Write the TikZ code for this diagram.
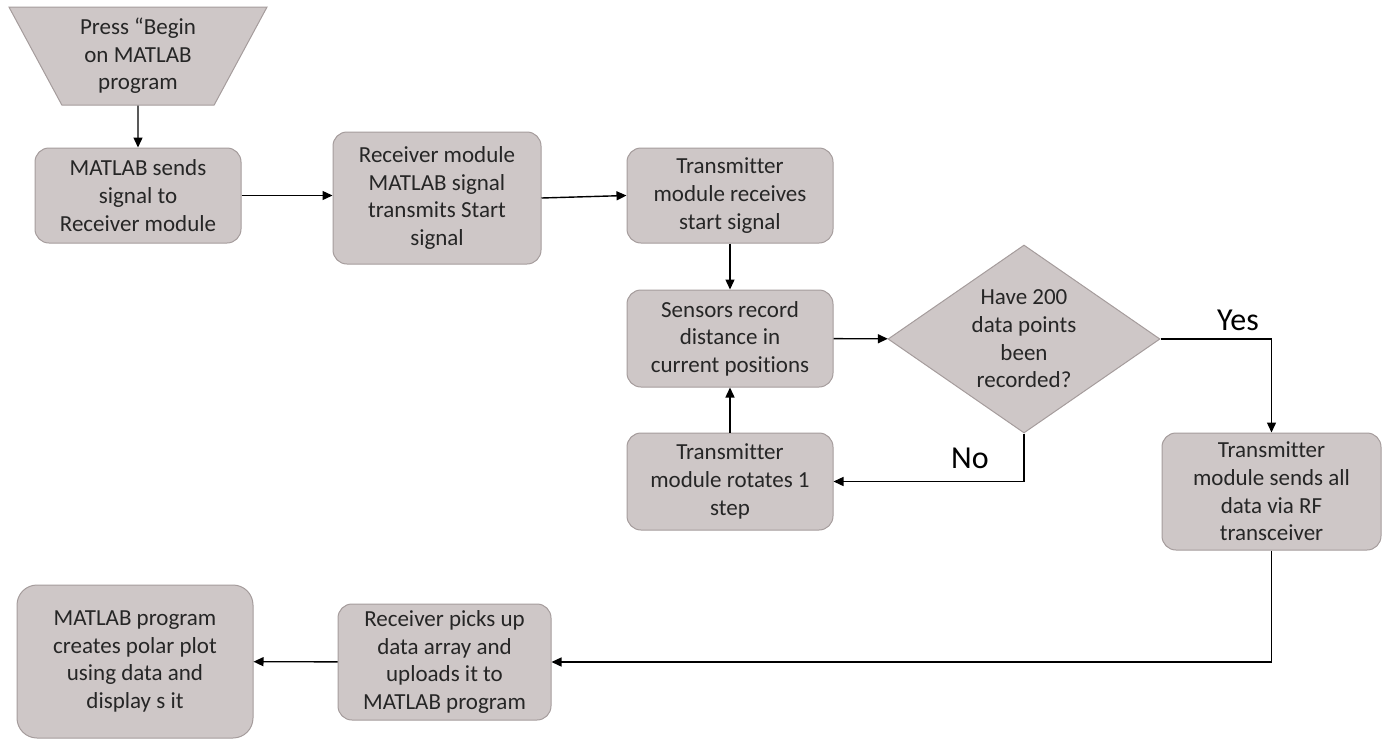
\documentclass[tikz,border=0pt]{standalone}
\usepackage{fontspec}
\setmainfont{Carlito}[Ligatures=NoCommon]
\usetikzlibrary{arrows.meta,shapes.geometric}
\definecolor{boxfill}{RGB}{206,199,199}
\definecolor{boxline}{RGB}{165,156,156}
\definecolor{textgray}{RGB}{38,38,38}

\begin{document}
\begin{tikzpicture}[
    x=0.5pt, y=-0.5pt,
    every node/.style={font=\fontsize{11.5}{13.8}\selectfont, text=textgray, align=center},
    box/.style={draw=boxline, fill=boxfill, rounded corners=7pt, line width=0.5pt, inner sep=2pt},
    choice/.style={diamond, draw=boxline, fill=boxfill, line width=0.5pt, inner sep=0pt, aspect=1.45},
    flow/.style={-{Triangle[length=5pt,width=4.5pt]}, line width=0.7pt},
    answer/.style={font=\fontsize{16}{19}\selectfont, text=black},
]
\useasboundingbox (0,0) rectangle (1387,740);

% Start
\node[trapezium, trapezium angle=62, shape border rotate=180, trapezium stretches=true,
      draw=boxline, fill=boxfill, line width=0.5pt, inner sep=0pt,
      minimum width=130pt, minimum height=49pt] (start) at (138,56) {Press “Begin\\on MATLAB\\program};

% Top row
\node[box, minimum width=103pt, minimum height=47.5pt] (send) at (138,195.5) {MATLAB sends\\signal to\\Receiver module};
\node[box, minimum width=104pt, minimum height=66pt] (relay) at (437,198) {Receiver module\\MATLAB signal\\transmits Start\\signal};
\node[box, minimum width=103pt, minimum height=47.5pt] (txrecv) at (730,195.5) {Transmitter\\module receives\\start signal};

% Loop
\node[box, minimum width=103pt, minimum height=48.5pt] (sense) at (730,338.5) {Sensors record\\distance in\\current positions};
\node[box, minimum width=103pt, minimum height=48.5pt] (rotate) at (730,481.5) {Transmitter\\module rotates 1\\step};
\node[choice, minimum width=136pt, minimum height=94pt] (check) at (1024,339) {Have 200\\data points\\been\\recorded?};
\node[box, minimum width=109.5pt, minimum height=58.5pt] (txsend) at (1271.5,491.5) {Transmitter\\module sends all\\data via RF\\transceiver};

% Bottom row
\node[box, minimum width=106.5pt, minimum height=58pt] (upload) at (444.5,662) {Receiver picks up\\data array and\\uploads it to\\MATLAB program};
\node[box, rounded corners=10pt, minimum width=118pt, minimum height=76.5pt] (plot) at (135,661.5) {MATLAB program\\creates polar plot\\using data and\\display s it};

% Connectors
\draw[flow] (start) -- (send);
\draw[flow] (send.east) -- (relay.west |- send.east);
\draw[flow] (relay.east) -- (txrecv.west);
\draw[flow] (txrecv) -- (sense);
\draw[flow] (rotate) -- (sense);
\draw[flow] (sense) -- (check);
\draw[flow] (check.south) |- (rotate.east);
\draw[flow] (check.east) -| (txsend.north);
\draw[flow] (txsend.south) |- (upload.east);
\draw[flow] (upload) -- (plot);

% Answers
\node[answer] (no) at (970,458) {No};
\node[answer] (yes) at (1238,320) {Yes};

\end{tikzpicture}
\end{document}
